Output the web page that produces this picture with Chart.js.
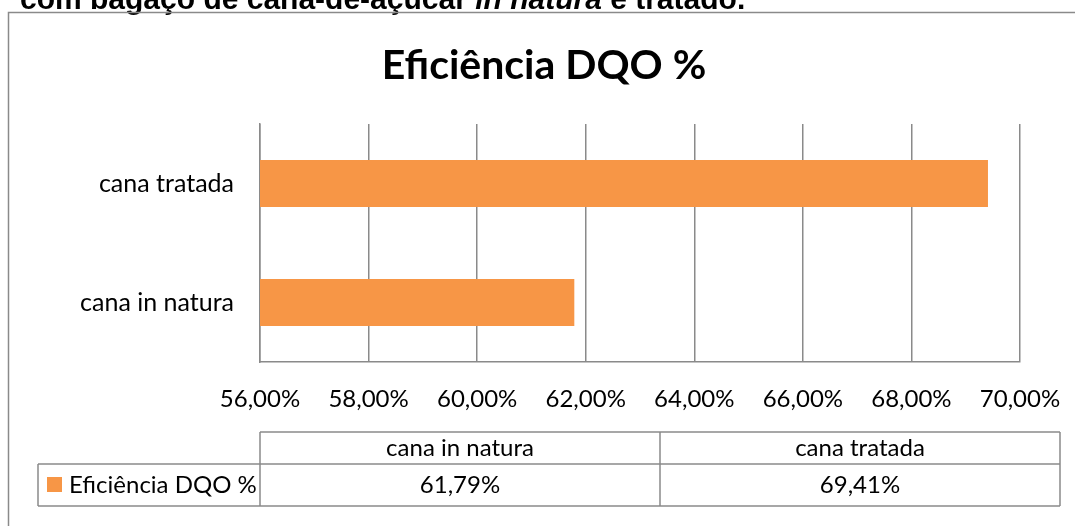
<!DOCTYPE html>
<html><head><meta charset="utf-8">
<script src="https://cdn.jsdelivr.net/npm/chart.js@4"></script>
<style>html,body{margin:0;padding:0;background:#fff;overflow:hidden}#wrap{position:relative;width:1075px;height:526px}</style>
</head><body><div id="wrap"><canvas id="c" width="1075" height="526"></canvas></div>
<script>
// ---- data ----
const categories = ['cana in natura', 'cana tratada'];
const values = [61.79, 69.41];
const seriesName = 'Eficiência DQO %';
const chartTitle = 'Eficiência DQO %';
const xTicks = [56, 58, 60, 62, 64, 66, 68, 70];
const headerParts = ['com bagaço de cana-de-açúcar ', 'in natura', ' e tratado.'];

// ---- styles ----
const FONT = 'Lato';
const FS = 24;
const BAR = '#F79646';
const LINE = '#8a8a8a';
const fmt = v => v.toFixed(2).replace('.', ',') + '%';

const overlay = {
  id: 'overlay',
  afterDraw(chart) {
    const ctx = chart.ctx, ca = chart.chartArea;
    ctx.save();
    // clipped header text from the page above
    ctx.fillStyle = '#000';
    ctx.textBaseline = 'alphabetic';
    ctx.textAlign = 'left';
    let x = 20;
    const fonts = ['bold 30px "Liberation Sans"', 'italic bold 30px "Liberation Sans"', 'bold 30px "Liberation Sans"'];
    headerParts.forEach((t, i) => { ctx.font = fonts[i]; ctx.fillText(t, x, 9); x += ctx.measureText(t).width; });
    // outer frame
    ctx.strokeStyle = LINE; ctx.lineWidth = 1.5;
    ctx.beginPath(); ctx.moveTo(8.5, 526); ctx.lineTo(8.5, 12.5); ctx.lineTo(1075, 12.5); ctx.stroke();
    // title
    ctx.font = 'bold 41px ' + FONT; ctx.textAlign = 'center'; ctx.textBaseline = 'middle';
    ctx.fillText(chartTitle, 544, 66);
    // data table
    const x0 = 38, x1 = ca.left, x3 = 1060, colW = (x3 - x1) / categories.length;
    const y0 = 432, y1 = 464, y2 = 506;
    ctx.strokeStyle = LINE; ctx.lineWidth = 1.5;
    ctx.beginPath();
    ctx.moveTo(x1, y0); ctx.lineTo(x3, y0);
    ctx.moveTo(x0, y1); ctx.lineTo(x3, y1);
    ctx.moveTo(x0, y2); ctx.lineTo(x3, y2);
    ctx.moveTo(x0, y1); ctx.lineTo(x0, y2);
    for (let i = 0; i <= categories.length; i++) { ctx.moveTo(x1 + i * colW, y0); ctx.lineTo(x1 + i * colW, y2); }
    ctx.stroke();
    ctx.font = FS + 'px ' + FONT; ctx.fillStyle = '#000';
    categories.forEach((c, i) => {
      ctx.textAlign = 'center';
      ctx.fillText(c, x1 + (i + 0.5) * colW, (y0 + y1) / 2);
      ctx.fillText(fmt(values[i]), x1 + (i + 0.5) * colW, (y1 + y2) / 2);
    });
    ctx.fillStyle = BAR; ctx.fillRect(47, 477, 15, 15);
    ctx.fillStyle = '#000'; ctx.textAlign = 'left';
    ctx.fillText(seriesName, 69, (y1 + y2) / 2);
    ctx.restore();
  }
};

new Chart(document.getElementById('c'), {
  type: 'bar',
  data: { labels: categories, datasets: [{ label: seriesName, data: values, backgroundColor: BAR, borderWidth: 0, barPercentage: 0.395, categoryPercentage: 1 }] },
  options: {
    indexAxis: 'y', responsive: false, animation: false, devicePixelRatio: 1,
    layout: { padding: { top: 124, right: 55, left: 0, bottom: 0 } },
    plugins: { legend: { display: false }, title: { display: false }, tooltip: { enabled: false } },
    scales: {
      x: {
        min: xTicks[0], max: xTicks[xTicks.length - 1],
        afterBuildTicks: s => { s.ticks = xTicks.map(v => ({ value: v })); },
        ticks: { callback: v => fmt(v), font: { family: FONT, size: FS }, color: '#000', padding: 23, maxRotation: 0 },
        grid: { color: LINE, lineWidth: 1.5, drawTicks: false },
        border: { color: LINE, width: 1.5 },
        afterFit: s => { s.height = 164; s.paddingRight = 0; s.paddingLeft = 0; }
      },
      y: {
        reverse: true,
        ticks: { font: { family: FONT, size: 25 }, color: '#000', padding: 26 },
        grid: { color: 'rgba(0,0,0,0)', drawTicks: false },
        border: { color: LINE, width: 1.5 },
        afterFit: s => { s.width = 260; }
      }
    }
  },
  plugins: [overlay]
});
</script></body></html>
